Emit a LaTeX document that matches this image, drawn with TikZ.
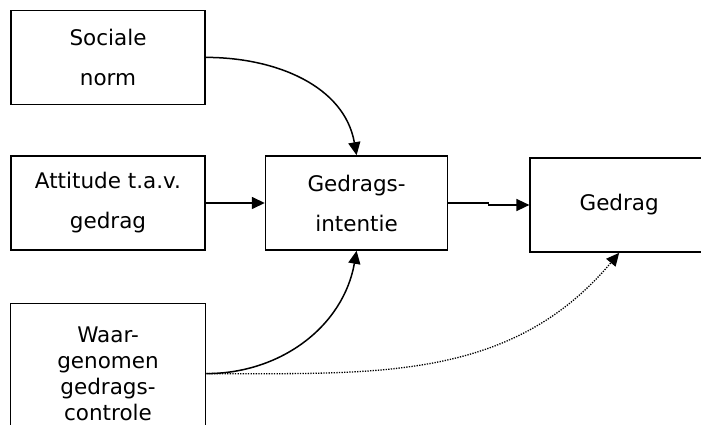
\documentclass[tikz,border=0pt]{standalone}
\usepackage{fontspec}
\setmainfont{DejaVu Sans}
\usetikzlibrary{arrows.meta,positioning}
\tikzset{
  box/.style={
    draw=black,
    line width=1.6pt,
    align=center,
    inner sep=0pt,
    minimum width=194pt,
    minimum height=94pt,
    font=\fontsize{21.5}{40}\selectfont
  },
  tallbox/.style={
    box,
    minimum height=140pt,
    font=\fontsize{21.5}{26}\selectfont
  },
  arrow/.style={-{Triangle[length=13pt,width=12pt]}, line width=1.5pt, draw=black},
  dotarrow/.style={-{Triangle[length=13pt,width=12pt]}, line width=1.3pt,
    dash pattern=on 1.3pt off 1.3pt, draw=black}
}

\begin{document}
\begin{tikzpicture}[node distance=50pt]
  \useasboundingbox (0,0) rectangle (701pt,425pt);
  \clip (0,0) rectangle (701pt,425pt);
  \node[box] (attitude) at (108pt,222pt) {Attitude t.a.v.\\gedrag};
  \node[box, above=of attitude] (sociale) {Sociale\\norm};
  \node[tallbox, below=52pt of attitude, minimum width=195pt] (controle) {Waar-\\genomen\\gedrags-\\controle};
  \node[box, right=59pt of attitude, minimum width=182pt] (intentie) {Gedrags-\\intentie};
  \node[box, right=81pt of intentie, yshift=-2pt, minimum width=178pt] (gedrag) {Gedrag};

  \draw[arrow] (sociale.east) to[out=0,in=100] (intentie.north);
  \draw[arrow] (attitude) -- (intentie);
  \draw[arrow] (intentie.east) -- ++(40pt,0) |- (gedrag.west);
  \draw[arrow] (controle.east) to[out=0,in=-100] (intentie.south);
  \draw[dotarrow] (controle.east) to[out=0,in=-130] (gedrag.south);
\end{tikzpicture}
\end{document}
